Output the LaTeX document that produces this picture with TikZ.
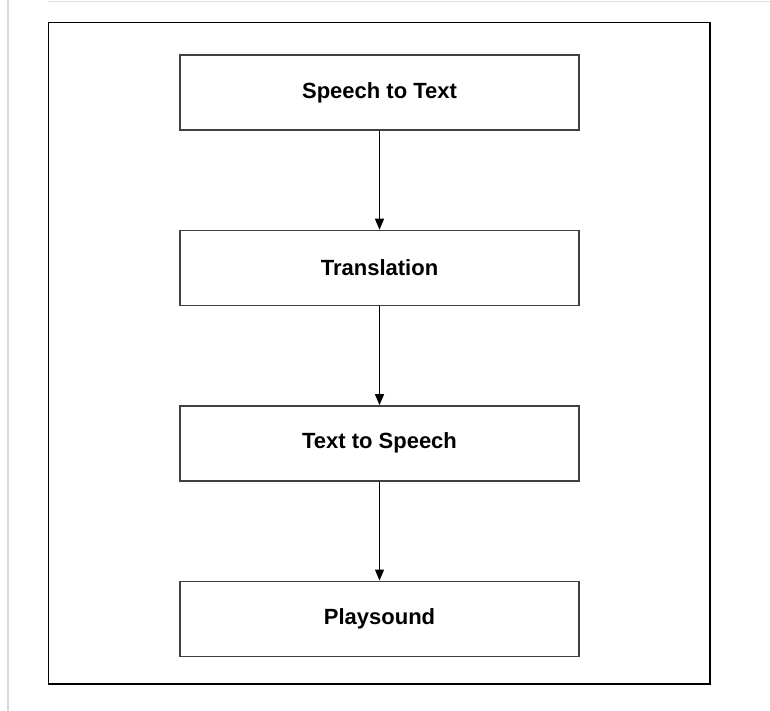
\documentclass[tikz,border=0pt]{standalone}
\usepackage{fontspec}
\setmainfont{Liberation Sans}
\usetikzlibrary{positioning,arrows.meta}
\definecolor{edgegray}{HTML}{E0E0E0}
\definecolor{sidegray}{HTML}{D5DDE3}

\begin{document}
\begin{tikzpicture}[x=1pt, y=1pt,
    stage/.style={rectangle, draw=black!75, line width=1.4pt, fill=white, minimum width=399pt, minimum height=75pt, font=\fontsize{22}{26}\selectfont\bfseries},
    arrow/.style={-{Triangle[length=11pt, width=9pt]}, line width=1.2pt}
]
\useasboundingbox (0,0) rectangle (770,-711);

% page edges and frame
\draw[edgegray, line width=1.5pt] (48,-1.5) -- (770,-1.5);
\draw[sidegray, line width=1.5pt] (8,0) -- (8,-711);
\draw[line width=1.5pt] (48.5,-22.5) rectangle (710,-684);

\node[stage] (stt) at (379.5,-92.5) {Speech to Text};
\node[stage, below=99pt of stt] (trans) {Translation};
\node[stage, below=99pt of trans] (tts) {Text to Speech};
\node[stage, below=99pt of tts] (play) {Playsound};

\draw[arrow] (stt) -- (trans);
\draw[arrow] (trans) -- (tts);
\draw[arrow] (tts) -- (play);

\end{tikzpicture}
\end{document}
